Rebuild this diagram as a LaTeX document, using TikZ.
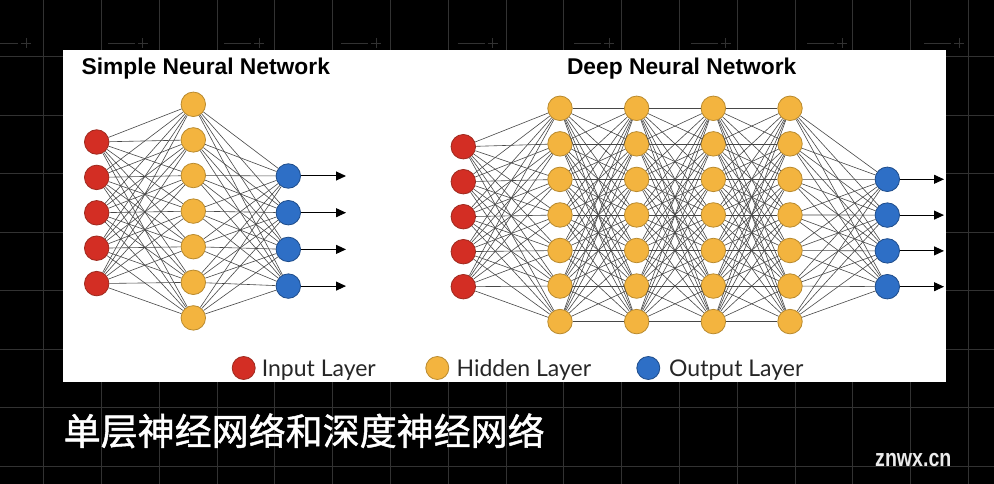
\documentclass[tikz,border=0pt]{standalone}
\usepackage{fontspec}
\usepackage{graphicx}
\setmainfont{Liberation Sans}
\newfontfamily\legendfont{Lato}
\newfontfamily\cjk[FakeBold=1.2]{Noto Sans CJK SC}
\usetikzlibrary{arrows.meta}
\definecolor{inred}{HTML}{D32E24}
\definecolor{inredb}{HTML}{9E2A1F}
\definecolor{hidor}{HTML}{F3B43F}
\definecolor{hidorb}{HTML}{B98A2E}
\definecolor{outbl}{HTML}{2E6FC6}
\definecolor{outblb}{HTML}{1E4C8A}
\definecolor{gridc}{HTML}{323232}
\tikzset{
  neuron/.style={circle, minimum size=24.5pt, inner sep=0pt, line width=0.8pt},
  inp/.style={neuron, fill=inred, draw=inredb},
  hid/.style={neuron, fill=hidor, draw=hidorb},
  outn/.style={neuron, fill=outbl, draw=outblb},
  edge/.style={draw=black!72, line width=0.6pt},
  outarrow/.style={draw=black, line width=1pt, -{Triangle[length=10pt,width=9pt]}},
  title/.style={font=\fontsize{22.8}{27}\selectfont\bfseries, anchor=base, inner sep=0pt},
  legtext/.style={font=\legendfont\fontsize{23}{27}\selectfont, anchor=base west, inner sep=0pt, text=black!85},
  legdot/.style={circle, minimum size=23pt, inner sep=0pt, line width=0.8pt},
  gridline/.style={draw=gridc, line width=0.7pt}
}
\begin{document}
\begin{tikzpicture}[x=1pt,y=-1pt]
\useasboundingbox (0,0) rectangle (994,484);
\fill[black] (0,0) rectangle (994,484);
% background grid
\foreach \k in {0,...,16} \draw[gridline] ({43.5+57.8*\k},0) -- ({43.5+57.8*\k},484);
\foreach \k in {0,...,7} \draw[gridline] (0,{56.5+58.5*\k}) -- (994,{56.5+58.5*\k});
\foreach \k in {0,...,8} {
  \draw[gridline] ({376+116.6*(\k-3)-35},43) -- ({376+116.6*(\k-3)-8},43);
  \draw[gridline] ({376+116.6*(\k-3)-5},43) -- ({376+116.6*(\k-3)+5},43);
  \draw[gridline] ({376+116.6*(\k-3)},38) -- ({376+116.6*(\k-3)},48);
}
% white panel
\fill[white] (63,50) rectangle (945.5,382);

% ---------- Simple network ----------
\node[title] (t1) at (205.8,75) {Simple Neural Network};
\foreach \k in {1,...,5} \node[inp] (si\k) at (96.7,{142+35.4*(\k-1)}) {};
\foreach \k in {1,...,7} \node[hid] (sh\k) at (193.3,{104.3+35.6*(\k-1)}) {};
\foreach \k in {1,...,4} {
  \node[outn] (so\k) at (288.3,{176+36.7*(\k-1)}) {};
  \coordinate (sa\k) at (346,{176+36.7*(\k-1)});
}
\foreach \i in {1,...,5} \foreach \j in {1,...,7} \draw[edge] (si\i) -- (sh\j);
\foreach \i in {1,...,7} \foreach \j in {1,...,4} \draw[edge] (sh\i) -- (so\j);
\foreach \k in {1,...,4} \draw[outarrow] (so\k) -- (sa\k);

% ---------- Deep network ----------
\node[title] (t2) at (681.7,75) {Deep Neural Network};
\foreach \k in {1,...,5} \node[inp] (di\k) at (463.3,{146.7+35*(\k-1)}) {};
\foreach \l in {1,...,4} \foreach \k in {1,...,7}
  \node[hid] (dh\l-\k) at ({560+76.67*(\l-1)},{108.3+35.55*(\k-1)}) {};
\foreach \k in {1,...,4} {
  \node[outn] (do\k) at (887.3,{179.3+35.8*(\k-1)}) {};
  \coordinate (da\k) at (944,{179.3+35.8*(\k-1)});
}
\foreach \i in {1,...,5} \foreach \j in {1,...,7} \draw[edge] (di\i) -- (dh1-\j);
\foreach \l/\m in {1/2,2/3,3/4} \foreach \i in {1,...,7} \foreach \j in {1,...,7}
  \draw[edge] (dh\l-\i) -- (dh\m-\j);
\foreach \i in {1,...,7} \foreach \j in {1,...,4} \draw[edge] (dh4-\i) -- (do\j);
\foreach \k in {1,...,4} \draw[outarrow] (do\k) -- (da\k);

% ---------- Legend ----------
\node[legdot, fill=inred, draw=inredb] (l1) at (243.7,368) {};
\node[legtext] (lt1) at (261.6,376) {Input Layer};
\node[legdot, fill=hidor, draw=hidorb] (l2) at (437.3,368) {};
\node[legtext] (lt2) at (456.4,376) {Hidden Layer};
\node[legdot, fill=outbl, draw=outblb] (l3) at (648.3,368) {};
\node[legtext] (lt3) at (669,376) {Output Layer};

% ---------- Caption & watermark ----------
\node[anchor=base west, inner sep=0pt, text=white, font=\cjk\fontsize{37}{40}\selectfont] (cap) at (63.5,445) {单层神经网络和深度神经网络};
\node[anchor=base west, inner sep=0pt, text=white!92!black, font=\bfseries\fontsize{24.5}{28}\selectfont] (wm) at (875,466) {\scalebox{0.8}[1]{znwx.cn}};
\end{tikzpicture}
\end{document}
